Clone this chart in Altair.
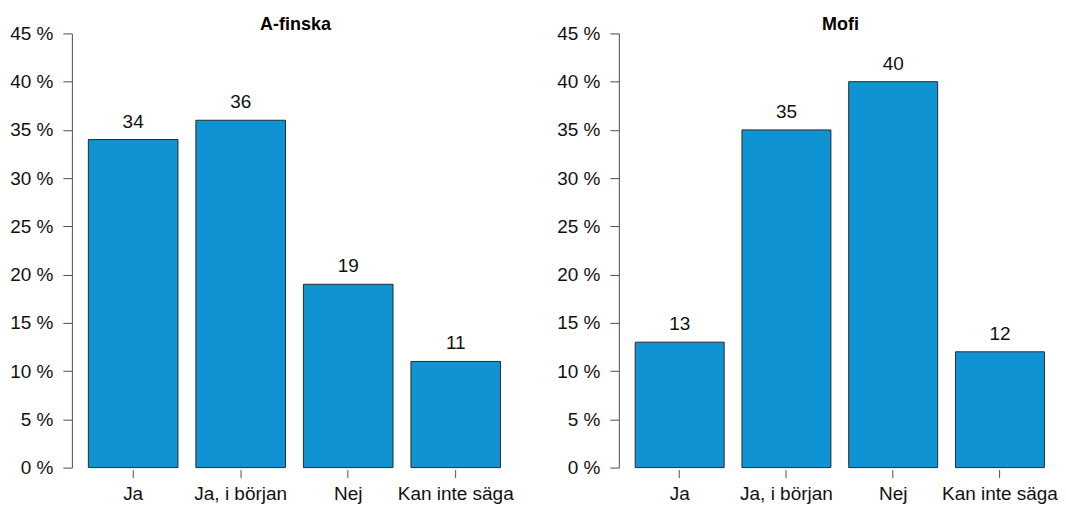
import altair as alt
import pandas as pd

categories = ["Ja", "Ja, i början", "Nej", "Kan inte säga"]
afinska_values = [34, 36, 19, 11]
mofi_values = [13, 35, 40, 12]
panel_titles = ["A-finska", "Mofi"]
y_ticks = [0, 5, 10, 15, 20, 25, 30, 35, 40, 45]

FONT = "Liberation Sans"
BAR_FILL = "#1093d3"
AXIS_COLOR = "#4d4d4d"
TEXT_COLOR = "#111111"
FS = 19


def panel(title, values, width, padding_outer, align, title_x):
    df = pd.DataFrame({"kategori": categories, "varde": values})
    base = alt.Chart(df).encode(
        x=alt.X(
            "kategori:N",
            sort=categories,
            scale=alt.Scale(paddingInner=0.1667, paddingOuter=padding_outer, align=align),
            axis=alt.Axis(
                title=None,
                labelAngle=0,
                domain=False,
                ticks=True,
                tickSize=8,
                offset=2,
                tickColor=AXIS_COLOR,
                labelPadding=7,
                labelFontSize=FS,
                labelFont=FONT,
                labelColor=TEXT_COLOR,
            ),
        ),
        y=alt.Y(
            "varde:Q",
            scale=alt.Scale(domain=[0, 45], nice=False, zero=True),
            axis=alt.Axis(
                title=None,
                values=y_ticks,
                labelExpr="datum.value + ' %'",
                grid=False,
                domainColor=AXIS_COLOR,
                tickColor=AXIS_COLOR,
                tickSize=9,
                labelPadding=10,
                labelFontSize=FS,
                labelFont=FONT,
                labelColor=TEXT_COLOR,
            ),
        ),
    )
    bars = base.mark_bar(fill=BAR_FILL, stroke="#2a2a2a", strokeWidth=1)
    labels = base.mark_text(
        baseline="alphabetic", dy=-12, fontSize=FS, font=FONT, color=TEXT_COLOR
    ).encode(text="varde:Q")
    tdf = pd.DataFrame({"t": [title]})
    ttl = alt.Chart(tdf).mark_text(
        baseline="alphabetic", fontSize=18, fontWeight="bold", font=FONT, color="#000000"
    ).encode(text="t:N", x=alt.value(title_x), y=alt.value(-3))
    return alt.layer(bars, labels, ttl).properties(width=width, height=435)


left = panel(panel_titles[0], afinska_values, 446, 0.1533, 0.5, 224)
# right panel: same bar geometry, trimmed right margin so the chart fits the page
right_width = 437
step_r = 410 / 3.8333
po_r = (right_width / step_r - 3.8333) / 2
outer_total = 2 * po_r * step_r
align_r = 16.4 / outer_total
right = panel(panel_titles[1], mofi_values, right_width, po_r, align_r, 222)

chart = (
    alt.hconcat(left, right, spacing=39)
    .properties(padding={"left": 1, "top": 8, "right": 0, "bottom": 0})
    .configure_view(stroke=None)
)

chart.save("out.html", embed_options={"renderer": "svg", "actions": False})
